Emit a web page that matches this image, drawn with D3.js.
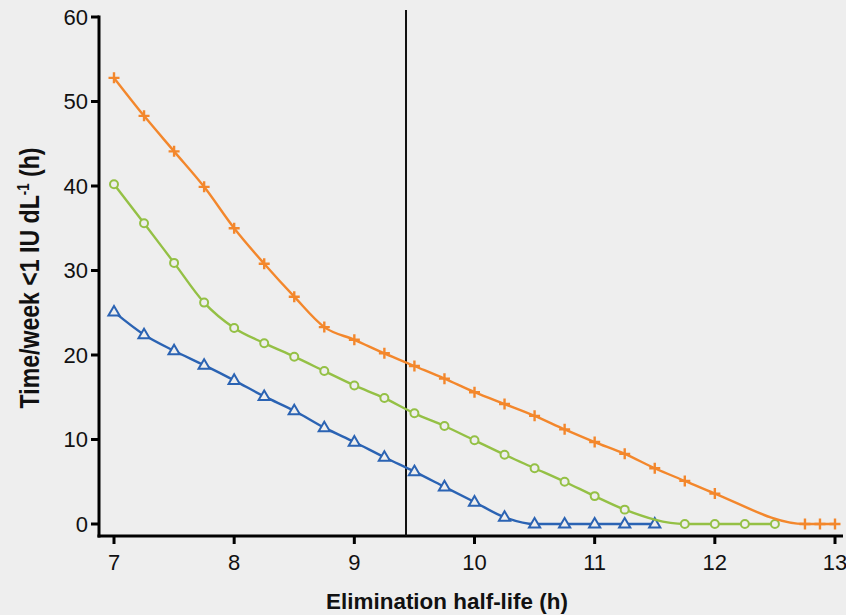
<html>
<head>
  <script src="https://d3js.org/d3.v7.min.js" charset="utf-8"></script>
  <style>
    * { margin: 0; padding: 0; }
    body { background: #eeeeee; }
    svg { display: block; }
    text { font-family: "Liberation Sans", Arial, sans-serif; fill: #111; }
  </style>
</head>
<body>
<div id="chart"></div>
<script>
  // data
  var orangeX = [7, 7.25, 7.5, 7.75, 8, 8.25, 8.5, 8.75, 9, 9.25, 9.5, 9.75, 10, 10.25, 10.5, 10.75, 11, 11.25, 11.5, 11.75, 12, 12.75, 12.875, 13];
  var orangeY = [52.8, 48.3, 44.1, 39.9, 35.0, 30.8, 26.9, 23.3, 21.8, 20.2, 18.7, 17.2, 15.6, 14.2, 12.8, 11.2, 9.7, 8.3, 6.6, 5.1, 3.6, 0, 0, 0];

  var greenX = [7, 7.25, 7.5, 7.75, 8, 8.25, 8.5, 8.75, 9, 9.25, 9.5, 9.75, 10, 10.25, 10.5, 10.75, 11, 11.25, 11.75, 12, 12.25, 12.5];
  var greenY = [40.2, 35.6, 30.9, 26.2, 23.2, 21.4, 19.8, 18.1, 16.4, 14.9, 13.1, 11.6, 9.9, 8.2, 6.6, 5.0, 3.3, 1.7, 0, 0, 0, 0];

  var blueX = [7, 7.25, 7.5, 7.75, 8, 8.25, 8.5, 8.75, 9, 9.25, 9.5, 9.75, 10, 10.25, 10.5, 10.75, 11, 11.25, 11.5];
  var blueY = [25.1, 22.4, 20.5, 18.8, 17.0, 15.1, 13.4, 11.4, 9.7, 7.9, 6.2, 4.4, 2.6, 0.8, 0, 0, 0, 0, 0];

  var xTicks = [7, 8, 9, 10, 11, 12, 13];
  var yTicks = [0, 10, 20, 30, 40, 50, 60];
  var refX = 9.43;

  var w = 846, h = 615;
  var bg = "#eeeeee";

  var svg = d3.select("#chart").append("svg")
    .attr("width", w)
    .attr("height", h);

  var x = d3.scaleLinear().domain([7, 13]).range([114, 835]);
  var y = d3.scaleLinear().domain([0, 60]).range([524, 17]);

  var axisX = 99, axisY = 536;

  // y axis
  svg.append("line")
    .attr("x1", axisX).attr("x2", axisX)
    .attr("y1", y(60) - 1.5).attr("y2", axisY + 1.5)
    .attr("stroke", "#000").attr("stroke-width", 3);

  var yt = svg.append("g").selectAll("g").data(yTicks).enter().append("g")
    .attr("transform", function(d) { return "translate(0," + y(d) + ")"; });
  yt.append("line")
    .attr("x1", axisX - 8).attr("x2", axisX)
    .attr("stroke", "#000").attr("stroke-width", 3);
  yt.append("text")
    .attr("x", axisX - 11).attr("dy", "0.36em")
    .attr("text-anchor", "end")
    .attr("font-size", 22)
    .text(function(d) { return d; });

  // x axis
  svg.append("line")
    .attr("x1", axisX - 1.5).attr("x2", 843)
    .attr("y1", axisY).attr("y2", axisY)
    .attr("stroke", "#000").attr("stroke-width", 3);

  var xt = svg.append("g").selectAll("g").data(xTicks).enter().append("g")
    .attr("transform", function(d) { return "translate(" + x(d) + ",0)"; });
  xt.append("line")
    .attr("y1", axisY).attr("y2", axisY + 8)
    .attr("stroke", "#000").attr("stroke-width", 3);
  xt.append("text")
    .attr("y", 570)
    .attr("text-anchor", "middle")
    .attr("font-size", 22)
    .text(function(d) { return d; });

  // reference line
  svg.append("line")
    .attr("x1", x(refX)).attr("x2", x(refX))
    .attr("y1", 10).attr("y2", axisY)
    .attr("stroke", "#111").attr("stroke-width", 2);

  var line = d3.line()
    .x(function(d) { return x(d[0]); })
    .y(function(d) { return y(d[1]); })
    .curve(d3.curveMonotoneX);

  function series(xs, ys, color, marker) {
    var pts = d3.zip(xs, ys);
    svg.append("path")
      .datum(pts)
      .attr("d", line)
      .attr("fill", "none")
      .attr("stroke", color)
      .attr("stroke-width", 2.4);
    var m = svg.append("g").selectAll("path").data(pts).enter().append("path")
      .attr("transform", function(d) { return "translate(" + x(d[0]) + "," + y(d[1]) + ")"; })
      .attr("stroke", color)
      .attr("stroke-width", 2);
    if (marker == "plus") {
      m.attr("d", "M-5.5,0H5.5M0,-5.5V5.5").attr("fill", "none").attr("stroke-width", 2.4);
    } else if (marker == "circle") {
      m.attr("d", d3.symbol().type(d3.symbolCircle).size(50)).attr("fill", bg);
    } else {
      m.attr("d", "M0,-6L5.6,3.6L-5.6,3.6Z").attr("fill", bg);
    }
  }

  series(blueX, blueY, "#2b63b3", "triangle");
  series(greenX, greenY, "#94c045", "circle");
  series(orangeX, orangeY, "#f3872c", "plus");

  // axis titles (condensed look: squeeze text to the reference width)
  var xTitle = svg.append("text")
    .attr("x", 0).attr("y", 0)
    .attr("text-anchor", "middle")
    .attr("font-size", 22)
    .attr("font-weight", "bold")
    .text("Elimination half-life (h)");
  var sx = 242 / xTitle.node().getComputedTextLength();
  xTitle.attr("transform", "translate(447,609) scale(" + sx + ",1)");

  var yTitle = svg.append("text")
    .attr("x", 0).attr("y", 0)
    .attr("text-anchor", "middle")
    .attr("font-size", 28)
    .attr("font-weight", "bold");
  yTitle.append("tspan").text("Time/week <1 IU dL");
  yTitle.append("tspan").attr("dy", -10).attr("font-size", 16).text("-1");
  yTitle.append("tspan").attr("dy", 10).text(" (h)");
  var sy = 261 / yTitle.node().getComputedTextLength();
  yTitle.attr("transform", "translate(39,278) rotate(-90) scale(" + sy + ",1)");
</script>
</body>
</html>
